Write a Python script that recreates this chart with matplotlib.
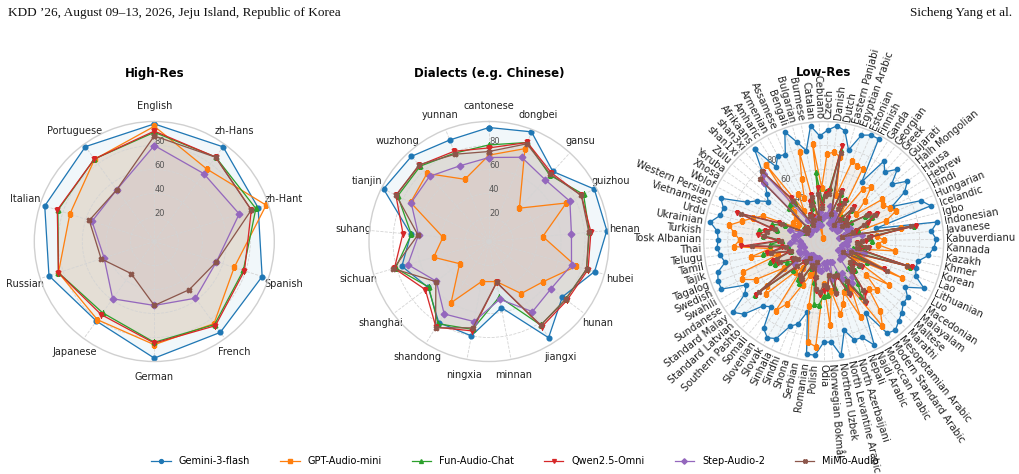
import numpy as np
import matplotlib
matplotlib.use("Agg")
import matplotlib.pyplot as plt

MODELS = ["Gemini-3-flash", "GPT-Audio-mini", "Fun-Audio-Chat", "Qwen2.5-Omni", "Step-Audio-2", "MiMo-Audio"]
COLORS = ["#1f77b4", "#ff7f0e", "#2ca02c", "#d62728", "#9467bd", "#8c564b"]
MARKERS = ["o", "s", "^", "v", "D", "X"]

# ---- High-Res ----
HIGH_LANGS = ["English", "zh-Hans", "zh-Hant", "Spanish", "French", "German",
              "Japanese", "Russian", "Italian", "Portuguese"]
HIGH_GEMINI = [98, 97.5, 91, 94.5, 93.6, 97.2, 82, 92.3, 96, 97.7]
HIGH_GPT    = [96, 74.6, 98, 70, 84.6, 86, 80.6, 84, 74, 84.7]
HIGH_FUN    = [91, 87, 89, 78, 85.5, 84, 73.4, 84, 84.5, 85]
HIGH_QWEN   = [92, 87, 85, 79, 86.7, 84.7, 75.3, 84, 85, 85]
HIGH_STEP   = [80, 70, 74.4, 54.5, 58.4, 53.3, 59, 44, 54.6, 53.3]
HIGH_MIMO   = [88, 86.8, 85, 54.5, 49.6, 53.3, 33, 46.6, 57, 53.3]

# ---- Dialects ----
DIA_NAMES = ["cantonese", "dongbei", "gansu", "guizhou", "henan", "hubei", "hunan", "jiangxi",
             "minnan", "ningxia", "shandong", "shanghai", "sichuan", "suhang", "tianjin",
             "wuzhong", "yunnan"]
DIA_GEMINI = [95, 98, 79, 98, 98.6, 91.5, 76.6, 94.3, 56, 80, 79.5, 63.5, 75.5, 65.5, 98.2, 96, 90.7]
DIA_GPT    = [72, 83, 37.6, 72, 45, 75.5, 56, 51, 34, 34, 60, 30.7, 48, 38.5, 73, 76.7, 55.6]
DIA_FUN    = [80.5, 88.5, 75, 88, 84, 84.5, 80, 82, 47, 74.5, 80.6, 63, 81, 65, 85, 85, 79]
DIA_QWEN   = [78, 88.5, 77.3, 86, 85.3, 85.8, 81.4, 83.6, 34.7, 75.8, 84, 66.5, 82, 72, 86.7, 86, 80.6]
DIA_STEP   = [70, 75.3, 69.6, 75.3, 69, 71.5, 65, 68.8, 49, 67.9, 71, 55, 70.3, 59, 72.5, 73.5, 67.6]
DIA_MIMO   = [75, 87.3, 76, 86, 83.5, 84.5, 80, 82, 34.7, 73.2, 84.6, 55.5, 82.8, 59.5, 86.3, 86.5, 78]

# ---- Low-Res ----
LOW_LANGS = ["Afrikaans", "Amharic", "Armenian", "Assamese", "Bengali", "Bulgarian", "Burmese",
             "Catalan", "Cebuano", "Czech", "Danish", "Dutch", "Eastern Panjabi", "Egyptian Arabic",
             "Estonian", "Finnish", "Ganda", "Georgian", "Greek", "Gujarati", "Halh Mongolian",
             "Hausa", "Hebrew", "Hindi", "Hungarian", "Icelandic", "Igbo", "Indonesian", "Javanese",
             "Kabuverdianu", "Kannada", "Kazakh", "Khmer", "Korean", "Lao", "Lithuanian", "Luo",
             "Macedonian", "Malayalam", "Maltese", "Marathi", "Mesopotamian Arabic",
             "Modern Standard Arabic", "Moroccan Arabic", "Najdi Arabic", "Nepali",
             "North Azerbaijani", "North Levantine Arabic", "Northern Uzbek", "Norwegian Bokmål",
             "Odia", "Polish", "Romanian", "Serbian", "Shona", "Sindhi", "Sinhala", "Slovak",
             "Slovenian", "Somali", "Southern Pashto", "Standard Latvian", "Standard Malay",
             "Sundanese", "Swahili", "Swedish", "Tagalog", "Tajik", "Tamil", "Telugu", "Thai",
             "Tosk Albanian", "Turkish", "Ukrainian", "Urdu", "Vietnamese", "Western Persian",
             "Wolof", "Xhosa", "Yoruba", "Zulu", "shan1xi", "shan3xi"]
LOW_GEMINI = [96, 74, 81, 79, 97, 86, 77, 97, 88, 93, 97, 94, 79, 94, 97, 97, 59, 84, 77, 86, 74,
              86, 79, 64, 88, 94, 45, 96, 90, 94, 92, 88, 80, 80, 82, 92, 78, 84, 84, 88, 91, 95,
              93, 69, 96, 86, 86, 76, 96, 84, 84, 95, 95, 60, 72, 76, 90, 93, 88, 70, 74, 90, 96,
              79, 74, 94, 94, 92, 84, 87, 89, 88, 89, 96, 89, 88, 93, 72, 65, 57, 62, 68, 78]
LOW_GPT    = [80, 30, 45, 40, 55, 77, 3, 82, 45, 73, 75, 72, 40, 71, 69, 69, 25, 55, 60, 48, 35,
              60, 58, 62, 65, 55, 22, 65, 45, 50, 45, 60, 30, 72, 30, 72, 28, 65, 45, 60, 55, 75,
              86, 45, 70, 45, 55, 62, 42, 70, 35, 88, 85, 55, 28, 30, 40, 60, 70, 28, 35, 65, 60,
              40, 65, 75, 72, 40, 62, 45, 75, 70, 75, 80, 70, 62, 55, 25, 30, 25, 30, 35, 40]
LOW_FUN    = [40, 18, 22, 20, 30, 35, 18, 58, 35, 42, 45, 78, 22, 42, 35, 40, 18, 25, 35, 25, 20,
              28, 40, 45, 38, 30, 18, 76, 38, 40, 30, 35, 25, 75, 22, 40, 20, 35, 28, 35, 30, 45,
              55, 35, 42, 28, 30, 40, 28, 45, 45, 53, 53, 35, 20, 22, 25, 40, 38, 20, 22, 35, 73,
              30, 35, 45, 48, 28, 52, 30, 45, 35, 51, 55, 40, 45, 35, 18, 20, 18, 20, 40, 42]
LOW_QWEN   = [45, 15, 25, 22, 35, 40, 20, 45, 30, 40, 42, 81, 25, 45, 32, 38, 15, 22, 38, 28, 22,
              24, 44, 50, 40, 28, 16, 78, 40, 35, 28, 38, 30, 77, 25, 55, 18, 38, 30, 32, 35, 55,
              62, 40, 50, 32, 32, 45, 30, 40, 41, 45, 42, 32, 18, 25, 22, 38, 35, 18, 24, 32, 72,
              28, 30, 42, 45, 30, 48, 35, 69, 38, 55, 50, 45, 76, 40, 16, 18, 16, 18, 72, 77]
LOW_STEP   = [22, 12, 15, 14, 18, 20, 14, 25, 20, 22, 22, 30, 16, 25, 20, 22, 13, 15, 20, 16, 14,
              16, 22, 25, 22, 18, 13, 32, 20, 20, 18, 20, 16, 35, 15, 22, 14, 20, 18, 20, 20, 38,
              42, 30, 35, 18, 18, 32, 17, 22, 18, 25, 24, 20, 14, 15, 15, 20, 20, 14, 15, 20, 30,
              18, 18, 22, 22, 17, 20, 18, 28, 20, 25, 25, 22, 30, 20, 13, 14, 13, 14, 70, 75]
LOW_MIMO   = [42, 16, 24, 20, 32, 38, 20, 40, 28, 38, 40, 75, 24, 44, 30, 36, 16, 22, 36, 26, 20,
              24, 42, 48, 36, 26, 16, 74, 38, 32, 28, 36, 28, 72, 24, 58, 18, 36, 28, 32, 34, 52,
              60, 38, 48, 30, 30, 44, 28, 38, 36, 42, 40, 30, 18, 24, 22, 36, 34, 18, 22, 30, 68,
              26, 28, 40, 42, 28, 45, 32, 60, 36, 50, 48, 42, 73, 38, 16, 18, 16, 18, 74, 78]

HIGH = [HIGH_GEMINI, HIGH_GPT, HIGH_FUN, HIGH_QWEN, HIGH_STEP, HIGH_MIMO]
DIA = [DIA_GEMINI, DIA_GPT, DIA_FUN, DIA_QWEN, DIA_STEP, DIA_MIMO]
LOW = [LOW_GEMINI, LOW_GPT, LOW_FUN, LOW_QWEN, LOW_STEP, LOW_MIMO]

W, H = 1020, 474
fig = plt.figure(figsize=(W / 100, H / 100), dpi=100)


def radar(ax, cats, rows, ms, lowres=False):
    n = len(cats)
    ang = np.arange(n) * 2 * np.pi / n
    shift = 8.5 * 2 * np.pi / n if lowres else 0.0   # low-res is rotated so the gap Cebuano/Czech sits on top
    ax.set_theta_offset(np.pi / 2 + shift)
    ax.set_theta_direction(-1)
    ax.set_ylim(0, 100)
    ax.set_yticks([20, 40, 60, 80])
    ax.set_yticklabels(["20", "40", "60", "80"], fontsize=6, color="#555555")
    ax.set_rlabel_position(0)
    ax.set_xticks(ang)
    ax.grid(True, color="#d4d4d4", ls="--", lw=0.6)
    ax.spines["polar"].set_color("#d0d0d0")
    ax.spines["polar"].set_linewidth(1.0)
    a = np.append(ang, ang[0])
    lines = []
    for vals, c, m, name in zip(rows, COLORS, MARKERS, MODELS):
        v = np.append(vals, vals[0])
        ln, = ax.plot(a, v, color=c, marker=m, ms=ms, lw=0.9, label=name)
        ax.fill(a, v, color=c, alpha=0.06)
        lines.append(ln)
    if lowres:
        ax.set_xticklabels([])
        for t, name in zip(ang, cats):
            sa = np.degrees(np.pi / 2 + shift - t) % 360
            if 90 < sa < 270:
                rot, ha = sa - 180, "right"
            else:
                rot, ha = sa, "left"
            ax.text(t, 102, name, rotation=rot, rotation_mode="anchor",
                    ha=ha, va="center", fontsize=7.2, color="#222222")
    else:
        ax.set_xticklabels(cats, fontsize=7, color="#222222")
        ax.tick_params(axis="x", pad=1)
    return lines


R = 120  # px radius of the r=100 circle
centers = [154.3, 489.0, 823.7]
cy = 241.5
panels = [("High-Res", HIGH_LANGS, HIGH, 3.4, False),
          ("Dialects (e.g. Chinese)", DIA_NAMES, DIA, 3.4, False),
          ("Low-Res", LOW_LANGS, LOW, 3.1, True)]
for cx, (title, cats, rows, ms, low) in zip(centers, panels):
    ax = fig.add_axes([(cx - R) / W, (H - cy - R) / H, 2 * R / W, 2 * R / H], projection="polar")
    handles = radar(ax, cats, rows, ms, low)
    fig.text(cx / W, 1 - 73 / H, title, ha="center", va="center", fontsize=8.5, fontweight="bold")

fig.legend(handles, MODELS, loc="center", bbox_to_anchor=(0.505, 1 - 461 / H), ncol=6,
           frameon=False, fontsize=7, columnspacing=3.1, markerscale=0.9, handletextpad=0.8)

hdr = ["Liberation Serif", "DejaVu Serif"]
fig.text(8 / W, 1 - 13 / H, "KDD \u201926, August 09\u201313, 2026, Jeju Island, Republic of Korea",
         ha="left", va="center", fontsize=9.5, family=hdr, color="#111111")
fig.text(1 - 8 / W, 1 - 13 / H, "Sicheng Yang et al.", ha="right", va="center",
         fontsize=9.5, family=hdr, color="#111111")

fig.savefig("out.png", dpi=100)
